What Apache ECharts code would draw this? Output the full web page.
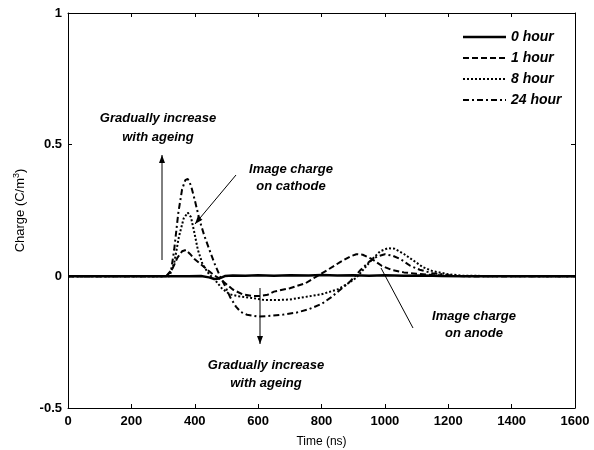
<!DOCTYPE html>
<html>
<head>
<meta charset="utf-8">
<script src="https://cdn.jsdelivr.net/npm/echarts@6/dist/echarts.min.js"></script>
<style>
  html, body { margin: 0; padding: 0; background: #fff; }
  #chart { width: 594px; height: 450px; }
</style>
</head>
<body>
<div id="chart"></div>
<script>
// Space charge at the electrodes versus time, after different ageing times
const seriesNames = ['0 hour', '1 hour', '8 hour', '24 hour'];

// time (ns) and charge (C/m^3) samples for each curve
const t0h = [0, 100, 200, 300, 380, 420, 445, 462, 478, 495, 520, 560, 600, 650, 700, 760, 800, 850, 900, 950, 1000, 1060, 1120, 1180, 1250, 1350, 1450, 1600];
const q0h = [0, 0, 0, 0, 0, 0.001, -0.004, -0.01, -0.008, 0.001, 0.003, 0.002, 0.004, 0.002, 0.004, 0.003, 0.005, 0.003, 0.004, 0.002, 0.004, 0.002, 0.003, 0.001, 0, 0, 0, 0];

const t1h = [0, 310, 330, 345, 360, 372, 385, 400, 420, 440, 460, 480, 500, 520, 550, 580, 605, 630, 650, 700, 750, 785, 820, 860, 890, 910, 930, 960, 990, 1020, 1060, 1100, 1150, 1200, 1300, 1600];
const q1h = [0, 0, 0.03, 0.07, 0.095, 0.1, 0.085, 0.065, 0.045, 0.025, 0.005, -0.01, -0.03, -0.05, -0.068, -0.074, -0.075, -0.07, -0.058, -0.045, -0.026, 0, 0.025, 0.055, 0.075, 0.084, 0.082, 0.065, 0.04, 0.025, 0.015, 0.01, 0.005, 0.002, 0, 0];

const t8h = [0, 320, 335, 350, 365, 378, 388, 398, 410, 425, 445, 465, 485, 510, 540, 580, 620, 660, 700, 750, 800, 850, 880, 910, 935, 960, 985, 1010, 1030, 1060, 1090, 1120, 1150, 1200, 1250, 1600];
const q8h = [0, 0, 0.05, 0.15, 0.22, 0.242, 0.225, 0.17, 0.1, 0.045, 0.008, -0.015, -0.045, -0.068, -0.076, -0.082, -0.09, -0.09, -0.088, -0.078, -0.068, -0.05, -0.03, -0.005, 0.03, 0.065, 0.095, 0.107, 0.105, 0.085, 0.06, 0.035, 0.02, 0.008, 0.002, 0];

const t24h = [0, 310, 325, 335, 348, 360, 370, 378, 388, 400, 416, 430, 445, 462, 478, 495, 512, 530, 545, 565, 600, 640, 680, 720, 760, 800, 830, 860, 890, 920, 950, 975, 1000, 1025, 1050, 1080, 1110, 1150, 1200, 1250, 1600];
const q24h = [0, 0, 0.02, 0.1, 0.24, 0.33, 0.365, 0.37, 0.345, 0.29, 0.21, 0.155, 0.105, 0.05, 0.005, -0.035, -0.08, -0.115, -0.135, -0.146, -0.153, -0.15, -0.145, -0.138, -0.125, -0.105, -0.08, -0.05, -0.02, 0.02, 0.055, 0.075, 0.084, 0.078, 0.065, 0.04, 0.025, 0.012, 0.005, 0, 0];

const xTicks = { min: 0, max: 1600, interval: 200 };
const yTicks = { min: -0.5, max: 1, interval: 0.5 };

const FONT = '"Liberation Sans", Arial, Helvetica, sans-serif';
const pairs = (t, q) => t.map((x, i) => [x, q[i]]);

const curves = [
  { t: t0h, q: q0h, dash: null, width: 2.5 },
  { t: t1h, q: q1h, dash: [6, 3], width: 2 },
  { t: t8h, q: q8h, dash: [2, 2], width: 2 },
  { t: t24h, q: q24h, dash: [6, 3, 2, 3], width: 2 }
];

const chart = echarts.init(document.getElementById('chart'), null, { renderer: 'canvas' });

const G = { left: 68, right: 19, top: 13, bottom: 42, containLabel: false, outerBoundsMode: 'none' };

// annotation arrow in pixel space, optional filled head at the end point
function arrow(x1, y1, x2, y2, head) {
  const els = [{
    type: 'line',
    shape: { x1, y1, x2, y2 },
    style: { stroke: '#000', lineWidth: 1 },
    z: 10
  }];
  if (head) {
    const ang = Math.atan2(y2 - y1, x2 - x1);
    const L = 8, W = 3;
    const bx = x2 - L * Math.cos(ang), by = y2 - L * Math.sin(ang);
    els.push({
      type: 'polygon',
      shape: { points: [[x2, y2],
        [bx + W * Math.sin(ang), by - W * Math.cos(ang)],
        [bx - W * Math.sin(ang), by + W * Math.cos(ang)]] },
      style: { fill: '#000' },
      z: 10
    });
  }
  return els;
}

// two-line italic note; y is the middle of the first line
function note(x, y, text, lh) {
  return {
    type: 'text', x, y: y - lh / 2, z: 10,
    style: {
      text, fill: '#000', align: 'center', verticalAlign: 'top',
      font: 'italic bold 13px ' + FONT, lineHeight: lh
    }
  };
}

// legend: line sample + label per curve
const legendRows = [37, 58, 79, 100];
const legendEls = [];
curves.forEach((c, i) => {
  legendEls.push({
    type: 'line',
    shape: { x1: 463, y1: legendRows[i], x2: 506, y2: legendRows[i] },
    style: { stroke: '#000', lineWidth: c.width, lineDash: c.dash || null },
    z: 10
  });
  legendEls.push({
    type: 'text', x: 511, y: legendRows[i], z: 10,
    style: {
      text: seriesNames[i], fill: '#000', align: 'left', verticalAlign: 'middle',
      font: 'italic bold 14px ' + FONT
    }
  });
});

const axisCommon = {
  axisLine: { show: true, onZero: false, lineStyle: { color: '#000', width: 1 } },
  axisTick: { show: true, inside: true, length: 4, lineStyle: { color: '#000' } },
  splitLine: { show: false }
};
const tickFmt = v => String(v);

chart.setOption({
  animation: false,
  backgroundColor: '#fff',
  grid: G,
  xAxis: [
    Object.assign({
      type: 'value', min: xTicks.min, max: xTicks.max, interval: xTicks.interval,
      name: 'Time (ns)', nameLocation: 'middle', nameGap: 28,
      nameTextStyle: { fontFamily: FONT, fontSize: 12, color: '#000' },
      axisLabel: { fontFamily: FONT, fontSize: 13, fontWeight: 'bold', color: '#000', margin: 7, formatter: tickFmt }
    }, axisCommon),
    Object.assign({
      type: 'value', position: 'top', min: xTicks.min, max: xTicks.max, interval: xTicks.interval,
      axisLabel: { show: false }
    }, axisCommon)
  ],
  yAxis: [
    Object.assign({
      type: 'value', min: yTicks.min, max: yTicks.max, interval: yTicks.interval,
      name: 'Charge (C/m{sup|3})', nameLocation: 'middle', nameGap: 40,
      nameTextStyle: {
        fontFamily: FONT, fontSize: 13, color: '#000',
        rich: { sup: { fontFamily: FONT, fontSize: 9, color: '#000', verticalAlign: 'bottom', padding: [0, 0, 7, 0] } }
      },
      axisLabel: { fontFamily: FONT, fontSize: 13, fontWeight: 'bold', color: '#000', margin: 6, formatter: tickFmt }
    }, axisCommon),
    Object.assign({
      type: 'value', position: 'right', min: yTicks.min, max: yTicks.max, interval: yTicks.interval,
      axisLabel: { show: false }
    }, axisCommon)
  ],
  series: curves.map((c, i) => ({
    name: seriesNames[i],
    type: 'line',
    data: pairs(c.t, c.q),
    showSymbol: false,
    symbol: 'none',
    lineStyle: { color: '#000', width: c.width, type: c.dash || 'solid' },
    itemStyle: { color: '#000' },
    z: 4 - i
  })),
  graphic: [].concat(
    arrow(162, 260, 162, 155, true),
    arrow(236, 175, 195, 224, true),
    arrow(260, 288, 260, 344, true),
    arrow(381, 268, 413, 328, false),
    [
      note(158, 118, 'Gradually increase\nwith ageing', 19),
      note(291, 169, 'Image charge\non cathode', 17),
      note(266, 365, 'Gradually increase\nwith ageing', 18),
      note(474, 316, 'Image charge\non anode', 17)
    ],
    legendEls
  )
});
</script>
</body>
</html>
